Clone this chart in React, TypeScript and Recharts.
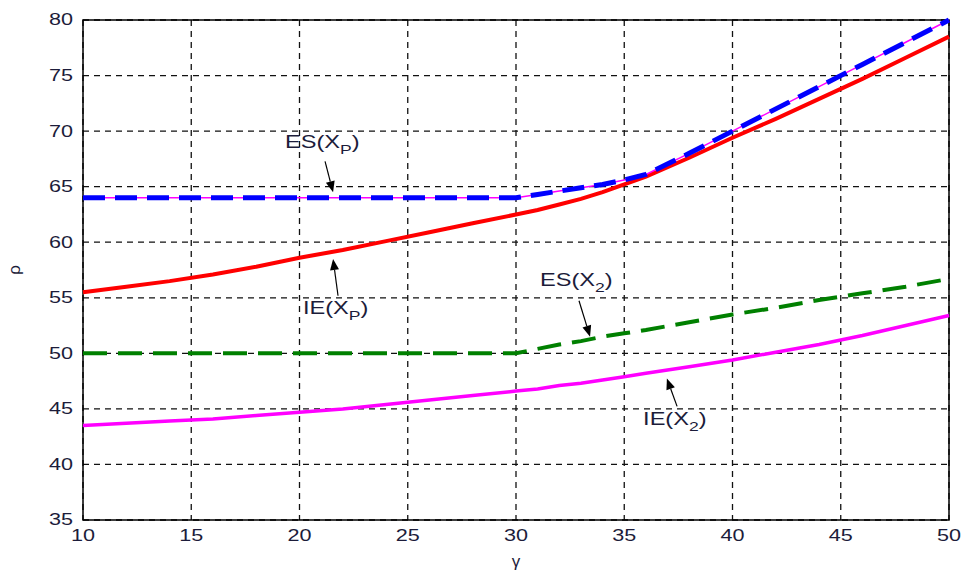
import React from "react";
import {
  CartesianGrid,
  Line,
  LineChart,
  ReferenceArea,
  ReferenceLine,
  XAxis,
  YAxis,
} from "recharts";

const gamma = [10, 12, 14, 16, 18, 20, 22, 24, 26, 28, 30, 31, 32, 33, 34, 35, 36, 38, 40, 42, 44, 46, 48, 50];
const esXp = [64, 64, 64, 64, 64, 64, 64, 64, 64, 64, 64, 64.3, 64.6, 64.9, 65.2, 65.6, 66.1, 68, 70, 72, 74, 76, 78, 80];
const ieXp = [55.5, 56, 56.5, 57.1, 57.8, 58.6, 59.3, 60.1, 60.9, 61.7, 62.5, 62.9, 63.4, 63.9, 64.5, 65.2, 65.9, 67.6, 69.4, 71.1, 72.9, 74.7, 76.6, 78.5];
const esX2 = [50, 50, 50, 50, 50, 50, 50, 50, 50, 50, 50, 50.4, 50.8, 51.1, 51.5, 51.8, 52.1, 52.8, 53.5, 54.1, 54.8, 55.4, 56, 56.7];
const ieX2 = [43.5, 43.7, 43.9, 44.1, 44.4, 44.7, 45, 45.4, 45.8, 46.2, 46.6, 46.8, 47.1, 47.3, 47.6, 47.9, 48.2, 48.8, 49.4, 50.1, 50.8, 51.6, 52.5, 53.4];

const xTicks = [10, 15, 20, 25, 30, 35, 40, 45, 50];
const yTicks = [35, 40, 45, 50, 55, 60, 65, 70, 75, 80];

// annotation: label, subscript, text start, arrow tail, arrow tip (data coords)
const notes = [
  { main: "ES(X", sub: "P", text: [19.33, 68.44], tail: [21.18, 67.28], tip: [21.55, 64.5] },
  { main: "IE(X", sub: "P", text: [20.16, 53.57], tail: [21.78, 55.18], tip: [21.55, 58.5] },
  { main: "ES(X", sub: "2", text: [31.11, 56.08], tail: [32.91, 54.73], tip: [33.42, 51.5] },
  { main: "IE(X", sub: "2", text: [35.87, 43.53], tail: [37.44, 45.23], tip: [36.97, 47.74] },
];

const data = gamma.map((g, i) => ({
  g,
  esXp: esXp[i],
  ieXp: ieXp[i],
  esX2: esX2[i],
  ieX2: ieX2[i],
}));

const textColor = "#1c1c3a";
const font = "'Liberation Sans', Arial, sans-serif";
const stretch = 1.35;

// matlab text renders wide, so stretch glyphs horizontally around the anchor
const wide = (x: number, y: number) =>
  `translate(${x} ${y}) scale(${stretch} 1) translate(${-x} ${-y})`;

const XTick = (p: any) => {
  const { x, y, payload } = p;
  return (
    <text x={x} y={y + 12} textAnchor="middle" transform={wide(x, y)} fill={textColor} fontSize={16} fontFamily={font}>
      {payload.value}
    </text>
  );
};

const YTick = (p: any) => {
  const { x, y, payload } = p;
  return (
    <text x={x + 1} y={y + 5.5} textAnchor="end" transform={wide(x + 1, y)} fill={textColor} fontSize={16} fontFamily={font}>
      {payload.value}
    </text>
  );
};

const Arrow = (p: any) => {
  const { x1, y1, x2, y2 } = p;
  const dx = x2 - x1;
  const dy = y2 - y1;
  const len = Math.sqrt(dx * dx + dy * dy) || 1;
  const ux = dx / len;
  const uy = dy / len;
  const hl = 11;
  const hw = 4.5;
  const bx = x2 - ux * hl;
  const by = y2 - uy * hl;
  return (
    <g>
      <line x1={x1} y1={y1} x2={bx} y2={by} stroke="#000" strokeWidth={1.2} />
      <polygon
        points={`${x2},${y2} ${bx - uy * hw},${by + ux * hw} ${bx + uy * hw},${by - ux * hw}`}
        fill="#000"
      />
    </g>
  );
};

const noteText = (main: string, sub: string) => (p: any) => (
  <text x={p.x1} y={p.y1} transform={wide(p.x1, p.y1)} fill={textColor} fontSize={17.5} fontFamily={font}>
    {main}
    <tspan fontSize={13} dy={6}>
      {sub}
    </tspan>
    <tspan dy={-6}>)</tspan>
  </text>
);

export default function App() {
  return (
    <div style={{ position: "absolute", left: 0, top: 0, background: "#fff" }}>
      <LineChart
        width={961}
        height={574}
        data={data}
        margin={{ top: 20, right: 12, left: 0, bottom: 0 }}
      >
        <CartesianGrid stroke="#111" strokeWidth={1.3} strokeDasharray="6 5" />
        <XAxis
          dataKey="g"
          type="number"
          domain={[10, 50]}
          ticks={xTicks}
          axisLine={false}
          tickLine={false}
          tickSize={0}
          tickMargin={9}
          height={54}
          tick={<XTick />}
          label={({ viewBox }: any) => (
            <text
              x={viewBox.x + viewBox.width / 2}
              y={567}
              textAnchor="middle"
              fill={textColor}
              fontSize={17}
              fontFamily={font}
            >
              γ
            </text>
          )}
        />
        <YAxis
          type="number"
          domain={[35, 80]}
          ticks={yTicks}
          axisLine={false}
          tickLine={false}
          tickSize={0}
          tickMargin={11}
          width={83}
          tick={<YTick />}
          label={({ viewBox }: any) => (
            <text
              x={20}
              y={viewBox.y + viewBox.height / 2}
              textAnchor="middle"
              transform={`rotate(-90 20 ${viewBox.y + viewBox.height / 2})`}
              fill={textColor}
              fontSize={17}
              fontFamily={font}
            >
              ρ
            </text>
          )}
        />
        <Line dataKey="ieX2" stroke="#ff00ff" strokeWidth={3.5} dot={false} isAnimationActive={false} type="linear" />
        <Line dataKey="esX2" stroke="#008000" strokeWidth={4} strokeDasharray="24 11" dot={false} isAnimationActive={false} type="linear" />
        <Line dataKey="ieXp" stroke="#ff0000" strokeWidth={4} dot={false} isAnimationActive={false} type="linear" />
        <Line dataKey="esXp" stroke="#ff00ff" strokeWidth={1.5} dot={false} isAnimationActive={false} type="linear" />
        <Line dataKey="esXp" stroke="#0000ff" strokeWidth={5} strokeDasharray="22 10" dot={false} isAnimationActive={false} type="linear" />
        <ReferenceArea x1={10} x2={50} y1={35} y2={80} fill="none" fillOpacity={0} stroke="#000" strokeWidth={1.5} />
        {notes.map((n, i) => (
          <ReferenceLine
            key={`a${i}`}
            segment={[
              { x: n.tail[0], y: n.tail[1] },
              { x: n.tip[0], y: n.tip[1] },
            ]}
            shape={Arrow}
          />
        ))}
        {notes.map((n, i) => (
          <ReferenceLine
            key={`t${i}`}
            segment={[
              { x: n.text[0], y: n.text[1] },
              { x: n.text[0], y: n.text[1] },
            ]}
            shape={noteText(n.main, n.sub)}
          />
        ))}
      </LineChart>
    </div>
  );
}
